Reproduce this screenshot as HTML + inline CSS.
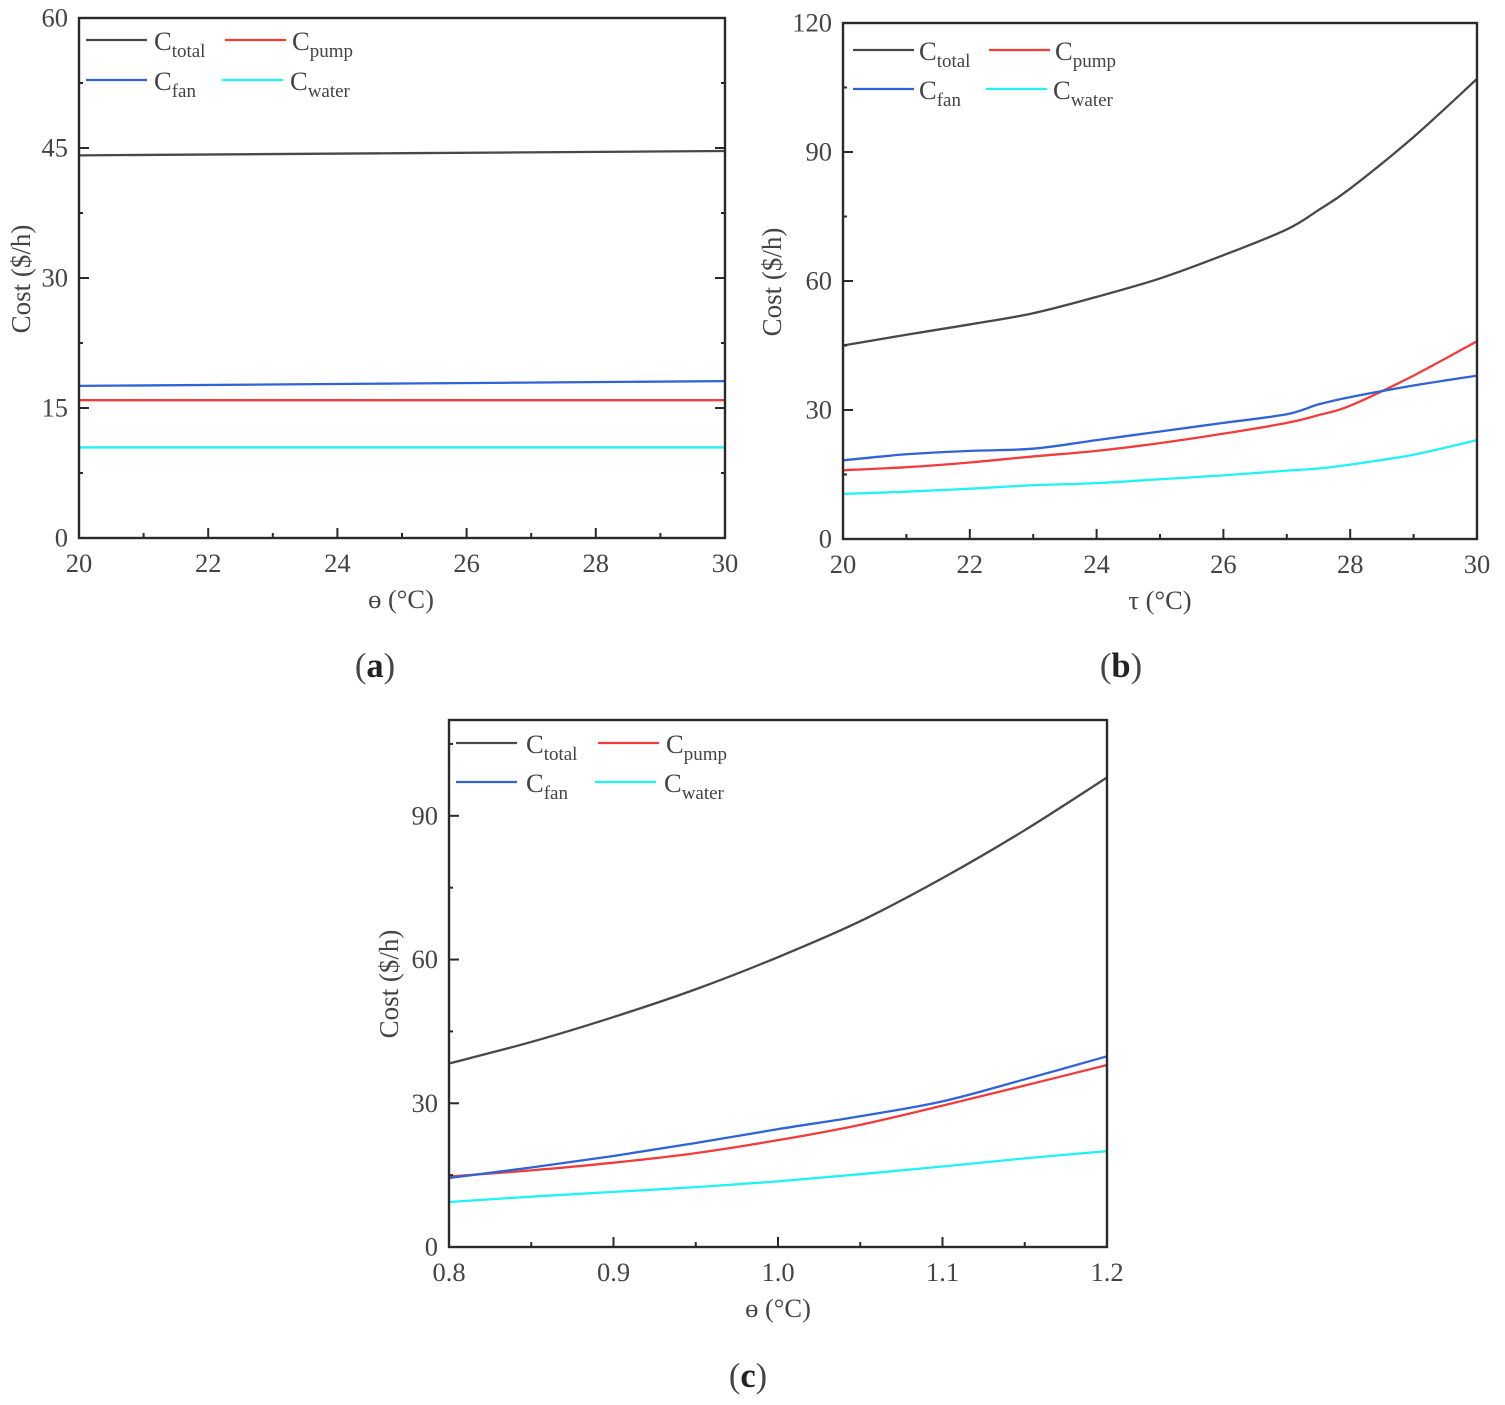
<!DOCTYPE html>
<html lang="en">
<head>
<meta charset="utf-8">
<title>Cost charts</title>
<style>
html,body{margin:0;padding:0;background:#fff;width:1505px;height:1405px;overflow:hidden}
svg{display:block;filter:blur(0.35px)}
text{font-family:"Liberation Serif","DejaVu Serif",serif;fill:#444}
</style>
</head>
<body>
<svg id="figure" width="1505" height="1405" viewBox="0 0 1505 1405" xmlns="http://www.w3.org/2000/svg"></svg>
<script>
const aXTicks = [20, 22, 24, 26, 28, 30];
const aYTicks = [0, 15, 30, 45, 60];
const aX = [20, 30];
const aTotal = [44.15, 44.65];
const aPump = [15.9, 15.9];
const aFan = [17.55, 18.1];
const aWater = [10.45, 10.45];

const bXTicks = [20, 22, 24, 26, 28, 30];
const bYTicks = [0, 30, 60, 90, 120];
const bX = [20, 21, 22, 23, 24, 25, 26, 27, 27.5, 28, 29, 30];
const bTotal = [45, 47.5, 49.9, 52.5, 56.3, 60.6, 66, 72, 76.5, 81.5, 93.5, 107];
const bPump = [16, 16.7, 17.8, 19.2, 20.5, 22.3, 24.5, 27, 28.8, 31, 38, 46];
const bFan = [18.3, 19.7, 20.5, 21, 23, 25, 27, 29, 31.3, 33, 35.7, 38];
const bWater = [10.5, 11, 11.7, 12.5, 13, 13.9, 14.8, 15.9, 16.4, 17.3, 19.6, 23];

const cXTicks = [0.8, 0.9, 1.0, 1.1, 1.2];
const cYTicks = [0, 30, 60, 90];
const cX = [0.8, 0.85, 0.9, 0.95, 1.0, 1.05, 1.1, 1.15, 1.2];
const cTotal = [38.3, 42.8, 48, 53.8, 60.5, 68, 77, 87, 98];
const cPump = [14.7, 16, 17.6, 19.6, 22.3, 25.5, 29.5, 33.7, 38];
const cFan = [14.4, 16.6, 19, 21.7, 24.6, 27.3, 30.4, 35, 39.8];
const cWater = [9.4, 10.5, 11.5, 12.5, 13.7, 15.2, 16.8, 18.5, 20];

const seriesNames = ['total', 'pump', 'fan', 'water'];
const seriesColors = {total: '#484848', pump: '#f23c3c', fan: '#2f63d6', water: '#1ff3f5'};

const svg = document.getElementById('figure');
const NS = 'http://www.w3.org/2000/svg';

function make(parent, tag, attrs, content) {
  const el = document.createElementNS(NS, tag);
  for (const k in attrs) el.setAttribute(k, attrs[k]);
  if (content !== undefined) el.textContent = content;
  parent.appendChild(el);
  return el;
}

function smoothPath(pts) {
  let d = 'M' + pts[0][0].toFixed(2) + ' ' + pts[0][1].toFixed(2);
  for (let i = 0; i < pts.length - 1; i++) {
    const p0 = pts[Math.max(i - 1, 0)];
    const p1 = pts[i];
    const p2 = pts[i + 1];
    const p3 = pts[Math.min(i + 2, pts.length - 1)];
    const c1x = p1[0] + (p2[0] - p0[0]) / 6;
    const c1y = p1[1] + (p2[1] - p0[1]) / 6;
    const c2x = p2[0] - (p3[0] - p1[0]) / 6;
    const c2y = p2[1] - (p3[1] - p1[1]) / 6;
    d += 'C' + c1x.toFixed(2) + ' ' + c1y.toFixed(2) + ' ' + c2x.toFixed(2) + ' ' + c2y.toFixed(2) + ' ' + p2[0].toFixed(2) + ' ' + p2[1].toFixed(2);
  }
  return d;
}

function drawPanel(cfg) {
  const g = make(svg, 'g', {});
  
  

  const xMin = cfg.xTicks[0];
  const xMax = cfg.xTicks[cfg.xTicks.length - 1];
  const xScale = v => cfg.left + (v - xMin) / (xMax - xMin) * (cfg.right - cfg.left);
  const yScale = v => cfg.bottom - (v - 0) / cfg.yMax * (cfg.bottom - cfg.top);
  const axisColor = '#2a2a2a';

  seriesNames.forEach(name => {
    const values = cfg.series[name];
    const pts = cfg.x.map((v, i) => [xScale(v), yScale(values[i])]);
    const line = make(g, 'path', {d: smoothPath(pts), fill: 'none', stroke: seriesColors[name], 'stroke-width': 2.3, 'stroke-linejoin': 'round'});
    
    
  });

  const frame = make(g, 'rect', {x: cfg.left, y: cfg.top, width: cfg.right - cfg.left, height: cfg.bottom - cfg.top, fill: 'none', stroke: axisColor, 'stroke-width': 2.4});
  
  

  cfg.xTicks.forEach((v, i) => {
    const x = xScale(v);
    const t = make(g, 'line', {x1: x, x2: x, y1: cfg.bottom, y2: cfg.bottom - 10, stroke: axisColor, 'stroke-width': 2});
    
    
    const label = make(g, 'text', {x: x, y: cfg.bottom + 34, 'text-anchor': 'middle', 'font-size': 26.5}, cfg.xFixed ? v.toFixed(cfg.xFixed) : String(v));
    
    
    if (i < cfg.xTicks.length - 1) {
      const mx = xScale((v + cfg.xTicks[i + 1]) / 2);
      const m = make(g, 'line', {x1: mx, x2: mx, y1: cfg.bottom, y2: cfg.bottom - 5, stroke: axisColor, 'stroke-width': 2});
      
      
    }
  });

  const step = cfg.yTicks[1] - cfg.yTicks[0];
  const yVals = [];
  for (let v = 0; v <= cfg.yMax + 0.001; v += step / 2) yVals.push(v);
  yVals.forEach((v, i) => {
    const y = yScale(v);
    const len = i % 2 === 0 ? 10 : 4;
    const t = make(g, 'line', {x1: cfg.left, x2: cfg.left + len, y1: y, y2: y, stroke: axisColor, 'stroke-width': 2});
    
    
    if (cfg.mirrorY) {
      const r = make(g, 'line', {x1: cfg.right, x2: cfg.right - len, y1: y, y2: y, stroke: axisColor, 'stroke-width': 2});
      
      
    }
  });
  cfg.yTicks.forEach(v => {
    const label = make(g, 'text', {x: cfg.left - 11, y: yScale(v) + 8.5, 'text-anchor': 'end', 'font-size': 26.5}, String(v));
    
    
  });

  const xTitle = make(g, 'text', {x: cfg.xTitleX, y: cfg.bottom + 70, 'text-anchor': 'middle', 'font-size': 26.5}, cfg.xTitle);
  
  

  const yTitle = make(g, 'text', {transform: 'translate(' + cfg.yTitleX + ',' + cfg.yTitleY + ') rotate(-90)', 'text-anchor': 'middle', 'font-size': 27}, 'Cost ($/h)');
  
  

  cfg.legend.forEach(e => {
    const lg = make(g, 'g', {});
    
    
    make(lg, 'line', {x1: e.x1, x2: e.x1 + 61, y1: e.y, y2: e.y, stroke: seriesColors[e.name], 'stroke-width': 2.3});
    const tx = make(lg, 'text', {x: e.tx, y: e.y + 10, 'font-size': 26.5}, 'C');
    const sub = make(tx, 'tspan', {dy: 7, 'font-size': 19}, e.name);
    
    
  });

  const cap = make(g, 'text', {x: cfg.capX, y: cfg.capY, 'text-anchor': 'middle', 'font-size': 34.5}, '(');
  
  
  const capLetter = make(cap, 'tspan', {'font-weight': 'bold', style: 'fill:#222'}, cfg.id);
  
  
  const capEnd = make(cap, 'tspan', {}, ')');
  
  
}

drawPanel({
  id: 'a', left: 79, right: 725, top: 18, bottom: 538, yMax: 60, mirrorY: true,
  xTicks: aXTicks, yTicks: aYTicks, x: aX,
  series: {total: aTotal, pump: aPump, fan: aFan, water: aWater},
  xTitle: 'ɵ (°C)', xTitleX: 401, yTitleX: 30, yTitleY: 279, capX: 375, capY: 677,
  legend: [
    {name: 'total', x1: 86, tx: 154, y: 40},
    {name: 'pump', x1: 225, tx: 292, y: 40},
    {name: 'fan', x1: 86, tx: 154, y: 80},
    {name: 'water', x1: 222, tx: 290, y: 80}
  ]
});

drawPanel({
  id: 'b', left: 843, right: 1477, top: 23, bottom: 539, yMax: 120,
  xTicks: bXTicks, yTicks: bYTicks, x: bX,
  series: {total: bTotal, pump: bPump, fan: bFan, water: bWater},
  xTitle: 'τ (°C)', xTitleX: 1160, yTitleX: 781, yTitleY: 282, capX: 1121, capY: 677,
  legend: [
    {name: 'total', x1: 853, tx: 919, y: 50},
    {name: 'pump', x1: 989, tx: 1055, y: 50},
    {name: 'fan', x1: 853, tx: 919, y: 89},
    {name: 'water', x1: 986, tx: 1053, y: 89}
  ]
});

drawPanel({
  id: 'c', left: 449, right: 1107, top: 720, bottom: 1247, yMax: 110, xFixed: 1,
  xTicks: cXTicks, yTicks: cYTicks, x: cX,
  series: {total: cTotal, pump: cPump, fan: cFan, water: cWater},
  xTitle: 'ɵ (°C)', xTitleX: 778, yTitleX: 398, yTitleY: 984, capX: 748, capY: 1387,
  legend: [
    {name: 'total', x1: 456, tx: 526, y: 743},
    {name: 'pump', x1: 598, tx: 666, y: 743},
    {name: 'fan', x1: 456, tx: 526, y: 782},
    {name: 'water', x1: 595, tx: 664, y: 782}
  ]
});
</script>
</body>
</html>
